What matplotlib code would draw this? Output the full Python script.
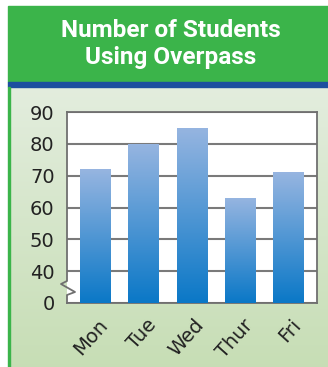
import numpy as np
import matplotlib
matplotlib.use("Agg")
from matplotlib import pyplot as plt
from matplotlib.patches import Rectangle
from matplotlib.transforms import ScaledTranslation

# daily counts of students crossing the overpass
days = ["Mon", "Tue", "Wed", "Thur", "Fri"]
students = [72, 80, 85, 63, 71]
ytick_values = [30, 40, 50, 60, 70, 80, 90]
ytick_labels = ["0", "40", "50", "60", "70", "80", "90"]

W, H = 328, 367
fig = plt.figure(figsize=(W / 100, H / 100), dpi=100)
fig.patch.set_facecolor("white")

def px(x0, y0, x1, y1):
    # pixel box (top-left origin) -> figure fraction rect
    return [x0 / W, 1 - y1 / H, (x1 - x0) / W, (y1 - y0) / H]

# light green panel with a vertical gradient
bg = fig.add_axes(px(10, 87, W, H), zorder=0)
grad = np.linspace(0, 1, 256).reshape(-1, 1)
top_c = np.array([0.89, 0.93, 0.87])
bot_c = np.array([0.78, 0.87, 0.71])
bg.imshow(top_c + grad[..., None] * (bot_c - top_c), aspect="auto",
          extent=[0, 1, 0, 1], origin="upper")
bg.axis("off")

# header band, blue rule and left green edge
fig.patches.append(Rectangle((7.5 / W, 1 - 82 / H), 1, 76 / H, transform=fig.transFigure,
                             color="#3bb44a", zorder=1))
fig.patches.append(Rectangle((7.5 / W, 1 - 87 / H), 1, 5 / H, transform=fig.transFigure,
                             color="#1c4f9f", zorder=1))
fig.patches.append(Rectangle((7.5 / W, 0), 2.5 / W, 1 - 87 / H, transform=fig.transFigure,
                             color="#3bb44a", zorder=1))

fig.text(171 / W, 1 - 44 / H, "Number of Students\nUsing Overpass", color="white",
         ha="center", va="center", fontsize=17.5, fontweight="bold", linespacing=1.2,
         family=["Roboto", "DejaVu Sans"], zorder=2)

ax = fig.add_axes(px(67, 112, 317, 303), zorder=2)
ax.set_facecolor("white")
x = np.arange(len(days))
width = 0.64
bars = ax.bar(x, students, width=width, color="none", zorder=3)

# blue gradient fill for each bar, light at the top, deep at the base
bar_grad = np.linspace(0, 1, 256).reshape(-1, 1)
light = np.array([0.59, 0.71, 0.88])
deep = np.array([0.04, 0.47, 0.78])
cols = light + bar_grad[..., None] * (deep - light)
for b, v in zip(bars, students):
    im = ax.imshow(cols, aspect="auto", origin="upper", zorder=3,
                   extent=[b.get_x(), b.get_x() + b.get_width(), ytick_values[0], v])
    im.set_clip_path(b)

ax.set_xlim(-0.59, 4.59)
ax.set_ylim(ytick_values[0], ytick_values[-1])
ax.set_yticks(ytick_values)
ax.set_yticklabels(ytick_labels)
ax.set_xticks(x)
ax.set_xticklabels(days, rotation=48, ha="right", va="top", rotation_mode="anchor")
ax.tick_params(length=0, colors="#222222")
ax.tick_params(axis="y", pad=9, labelsize=14)
ax.tick_params(axis="x", pad=9, labelsize=14)
shift = ScaledTranslation(2 / 100, 0, fig.dpi_scale_trans)
for t in ax.get_xticklabels():
    t.set_transform(t.get_transform() + shift)
ax.grid(axis="y", color="#7a7a7a", linewidth=1.5, zorder=1)
ax.set_axisbelow(True)
for s in ax.spines.values():
    s.set_color("#707070")
    s.set_linewidth(1.3)
ax.spines["left"].set_visible(False)

# left axis with a zigzag break between 0 and 40
zx = [67, 67, 61, 75, 67, 67]
zy = [112, 281, 284, 292, 295, 303]
fig.add_artist(plt.Line2D([v / W for v in zx], [1 - v / H for v in zy],
                          transform=fig.transFigure, color="#707070", linewidth=1.3, zorder=5))

fig.savefig("out.png", dpi=100)
